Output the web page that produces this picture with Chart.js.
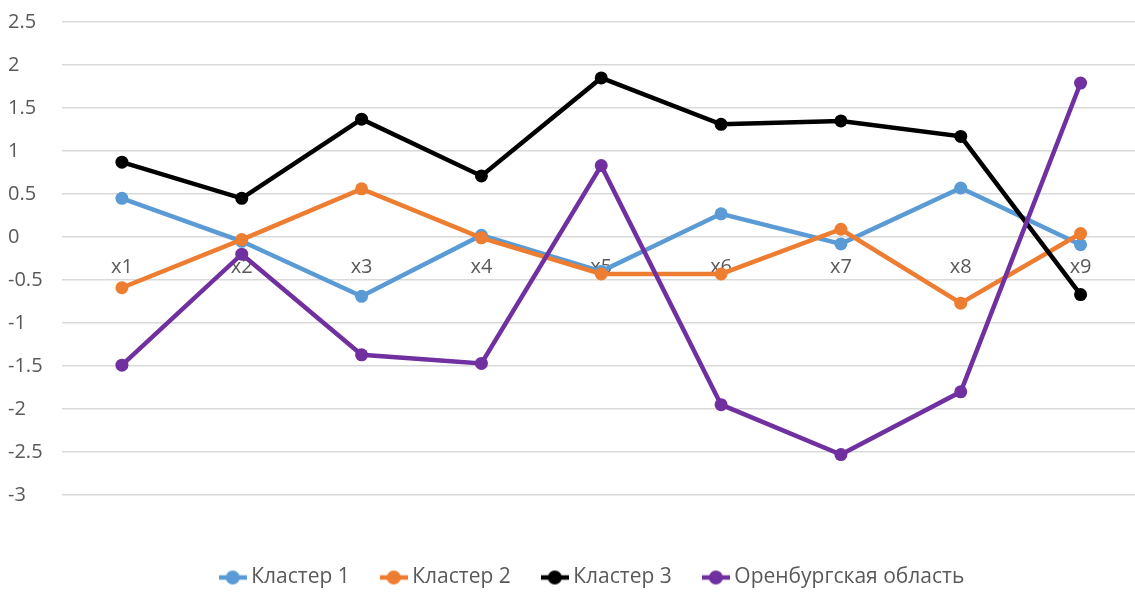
<!DOCTYPE html>
<html>
<head>
<meta charset="utf-8">
<script src="https://cdn.jsdelivr.net/npm/chart.js@4.4.1/dist/chart.umd.min.js"></script>
<style>
html,body{margin:0;padding:0;background:#fff;overflow:hidden;}
#wrap{position:relative;width:1147px;height:593px;}
canvas{display:block;}
</style>
</head>
<body>
<div id="wrap"><canvas id="c" width="1147" height="593"></canvas></div>
<script>
const categories = ['x1','x2','x3','x4','x5','x6','x7','x8','x9'];
const seriesNames = ['Кластер 1','Кластер 2','Кластер 3','Оренбургская область'];
const cluster1 = [0.45, -0.05, -0.69, 0.02, -0.40, 0.27, -0.08, 0.57, -0.09];
const cluster2 = [-0.59, -0.03, 0.56, -0.01, -0.43, -0.43, 0.09, -0.77, 0.04];
const cluster3 = [0.87, 0.45, 1.37, 0.71, 1.85, 1.31, 1.35, 1.17, -0.67];
const orenburg = [-1.49, -0.20, -1.37, -1.47, 0.83, -1.95, -2.53, -1.80, 1.79];
const yTicks = [2.5, 2, 1.5, 1, 0.5, 0, -0.5, -1, -1.5, -2, -2.5, -3];

const colors = ['#5B9BD5','#ED7D31','#000000','#7030A0'];
const seriesData = [cluster1, cluster2, cluster3, orenburg];
const FONT = 'Open Sans, Lato, sans-serif';

function legendIcon(color){
  const cv = document.createElement('canvas');
  cv.width = 28; cv.height = 16;
  const g = cv.getContext('2d');
  g.strokeStyle = color; g.lineWidth = 4.5;
  g.beginPath(); g.moveTo(0,8); g.lineTo(28,8); g.stroke();
  g.fillStyle = color;
  g.beginPath(); g.arc(14,8,7,0,Math.PI*2); g.fill();
  return cv;
}
const icons = colors.map(legendIcon);

const datasets = seriesData.map((d,i)=>({
  label: seriesNames[i],
  data: d,
  borderColor: colors[i],
  backgroundColor: colors[i],
  borderWidth: 4.5,
  pointRadius: 6.5,
  pointHoverRadius: 6.5,
  pointBackgroundColor: colors[i],
  pointBorderWidth: 0,
  tension: 0,
  order: 4 - i
}));

const legendShift = {
  id: 'legendShift',
  afterLayout(chart){
    const l = chart.legend;
    if (!l) return;
    l.left += 17; l.right += 17;
    l.top += 36; l.bottom += 36;
  }
};

new Chart(document.getElementById('c'), {
  type: 'line',
  data: { labels: categories, datasets },
  plugins: [legendShift],
  options: {
    responsive: false,
    maintainAspectRatio: false,
    animation: false,
    devicePixelRatio: 1,
    layout: { padding: { left: 8, right: 0, top: 22, bottom: 31 } },
    plugins: {
      tooltip: { enabled: false },
      legend: {
        position: 'bottom',
        labels: {
          usePointStyle: true,
          pointStyleWidth: 16,
          font: { family: FONT, size: 21 },
          color: '#595959',
          padding: 36,
          generateLabels: (chart) => chart.data.datasets.map((ds,i)=>({
            text: ds.label,
            pointStyle: icons[i],
            fillStyle: colors[i],
            strokeStyle: colors[i],
            lineWidth: 0,
            fontColor: '#595959',
            hidden: false,
            datasetIndex: i
          }))
        }
      }
    },
    scales: {
      x: {
        type: 'category',
        position: { y: 0 },
        offset: true,
        grid: { display: false },
        border: { display: false },
        ticks: { color: '#595959', font: { family: FONT, size: 20 }, padding: 10, maxRotation: 0 }
      },
      y: {
        min: -3, max: 2.5,
        afterBuildTicks: (s) => { s.ticks = yTicks.map(v=>({value:v})); },
        afterFit: (s) => { s.width = 54; },
        grid: { color: '#d9d9d9', lineWidth: 1.5, drawTicks: false },
        border: { display: false },
        ticks: {
          crossAlign: 'far',
          color: '#595959',
          font: { family: FONT, size: 20 },
          padding: 0,
          callback: (v) => String(v)
        }
      }
    }
  }
});
</script>
</body>
</html>
